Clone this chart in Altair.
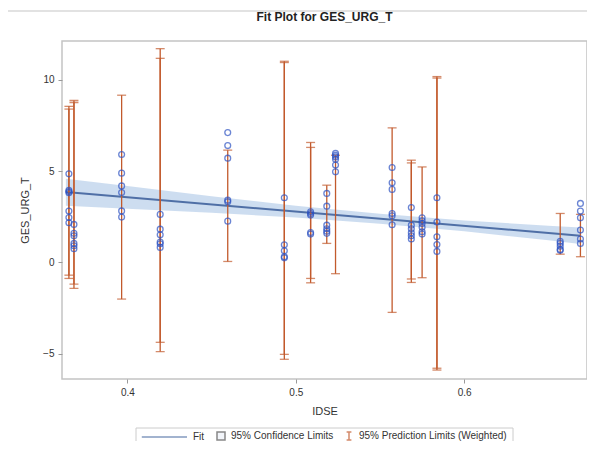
import altair as alt
import pandas as pd

# ---------------- data ----------------
col_x = [0.3653, 0.3683, 0.3966, 0.4195, 0.4596, 0.4932, 0.5088, 0.5184,
         0.5236, 0.5572, 0.5686, 0.5750, 0.5838, 0.6570, 0.6690]
col_y = [
    [4.85, 3.95, 3.88, 3.82, 2.81, 2.46, 2.17],
    [2.08, 1.59, 1.46, 1.04, 0.91, 0.75],
    [5.91, 4.89, 4.19, 3.83, 2.82, 2.48],
    [2.63, 1.82, 1.51, 1.11, 1.02, 0.82],
    [7.11, 6.40, 5.71, 3.41, 3.32, 2.26],
    [3.54, 0.96, 0.64, 0.31, 0.25],
    [2.77, 2.68, 2.59, 1.64, 1.55],
    [3.78, 3.08, 2.04, 1.84, 1.71, 1.59],
    [5.97, 5.87, 5.78, 5.65, 5.33, 4.96],
    [5.20, 4.36, 4.00, 2.68, 2.55, 2.06],
    [3.01, 2.04, 1.84, 1.62, 1.46, 1.28],
    [2.44, 2.28, 2.13, 1.92, 1.68, 1.55],
    [3.54, 2.21, 1.40, 0.98, 0.60],
    [1.15, 1.04, 0.89, 0.71, 0.66],
    [3.23, 2.81, 2.44, 1.77, 1.28, 1.04],
]

# 95% prediction limits (weighted), one entry per drawn bar
pred_x  = [0.3653, 0.3653, 0.3683, 0.3683, 0.3966, 0.4195, 0.4195, 0.4596,
           0.4932, 0.4932, 0.5088, 0.5088, 0.5184, 0.5236, 0.5572,
           0.5686, 0.5686, 0.5750, 0.5838, 0.5838, 0.6570, 0.6690]
pred_lo = [-0.88, -0.70, -1.42, -1.19, -2.01, -4.89, -4.38, 0.05,
           -5.31, -5.04, -1.12, -0.88, 1.04, -0.62, -2.74,
           -1.10, -0.91, -0.84, -5.90, -5.80, 0.45, 0.31]
pred_hi = [8.55, 8.40, 8.87, 8.76, 9.16, 11.71, 11.18, 6.15,
           11.02, 10.95, 6.57, 6.30, 4.23, 5.87, 7.37,
           5.60, 5.45, 5.23, 10.18, 10.10, 2.68, 2.63]

# fit line and 95% confidence band
fit_x  = [0.3635, 0.669]
fit_y  = [3.85, 1.46]
band_x  = [0.3635, 0.40, 0.45, 0.50, 0.55, 0.60, 0.65, 0.669]
band_lo = [3.10, 2.94, 2.72, 2.46, 2.12, 1.70, 1.21, 1.01]
band_hi = [4.58, 4.18, 3.62, 3.10, 2.66, 2.30, 2.01, 1.91]

legend_labels = ["Fit", "95% Confidence Limits", "95% Prediction Limits (Weighted)"]
x_ticks = [0.4, 0.5, 0.6]
y_ticks = [-5, 0, 5, 10]

# ---------------- tables ----------------
obs = pd.DataFrame([(x, y) for x, ys in zip(col_x, col_y) for y in ys],
                   columns=["IDSE", "GES_URG_T"])
pred = pd.DataFrame({"IDSE": pred_x, "lo": pred_lo, "hi": pred_hi})
fit = pd.DataFrame({"IDSE": fit_x, "fit": fit_y})
band = pd.DataFrame({"IDSE": band_x, "lo": band_lo, "hi": band_hi})
leg = pd.DataFrame({"series": legend_labels})

FONT = "Liberation Sans"
BLUE_PT = "#2d52c2"
FIT_C = "#4f6fa6"
BAND_C = "#c8d9ee"
ERR_C = "#c25a2c"

xs = alt.Scale(domain=[0.3612, 0.6729], nice=False, zero=False)
ys = alt.Scale(domain=[-6.39, 12.13], nice=False, zero=False)
xax = alt.Axis(values=x_ticks, format=".1f", title="IDSE")
yax = alt.Axis(values=y_ticks, format="d", title="GES_URG_T")

band_l = alt.Chart(band).mark_area(color=BAND_C, opacity=0.9).encode(
    x=alt.X("IDSE:Q", scale=xs, axis=xax),
    y=alt.Y("lo:Q", scale=ys, axis=yax),
    y2="hi:Q",
)
fit_l = alt.Chart(fit).mark_line(color=FIT_C, strokeWidth=2).encode(
    x=alt.X("IDSE:Q", scale=xs), y=alt.Y("fit:Q", scale=ys)
)
rule_l = alt.Chart(pred).mark_rule(color=ERR_C, strokeWidth=1.3).encode(
    x=alt.X("IDSE:Q", scale=xs), y=alt.Y("lo:Q", scale=ys), y2="hi:Q"
)
cap_lo = alt.Chart(pred).mark_tick(color=ERR_C, orient="horizontal", size=9, thickness=1.3).encode(
    x=alt.X("IDSE:Q", scale=xs), y=alt.Y("lo:Q", scale=ys)
)
cap_hi = alt.Chart(pred).mark_tick(color=ERR_C, orient="horizontal", size=9, thickness=1.3).encode(
    x=alt.X("IDSE:Q", scale=xs), y=alt.Y("hi:Q", scale=ys)
)
pts = alt.Chart(obs).mark_point(shape="circle", filled=False, size=34, strokeWidth=1.3,
                                color=BLUE_PT).encode(
    x=alt.X("IDSE:Q", scale=xs), y=alt.Y("GES_URG_T:Q", scale=ys)
)

# legend carrier (no marks drawn); the Fit line symbol runs to the left of its slot
leg_legend = alt.Legend(title=None)
leg_l = alt.Chart(leg).transform_filter("false").mark_point(filled=False).encode(
    shape=alt.Shape("series:N", scale=alt.Scale(
        domain=legend_labels,
        range=["M-10.3,0H1", "M-1,-1H1V1H-1Z", "M-0.6,-1H0.6M0,-1V1M-0.6,1H0.6"]),
        legend=leg_legend),
    stroke=alt.Stroke("series:N", scale=alt.Scale(domain=legend_labels,
                      range=[FIT_C, "#555555", ERR_C]), legend=leg_legend),
    fill=alt.Fill("series:N", scale=alt.Scale(domain=legend_labels,
                  range=["transparent", "#e6edf6", "transparent"]), legend=leg_legend),
)

# decorative frames: screenshot border lines and the legend box
one = alt.Data(values=[{}])
frame_top = alt.Chart(one).mark_rule(color="#d9d9d9", strokeWidth=1.5).encode(
    x=alt.value(-55), x2=alt.value(530), y=alt.value(-30))
frame_left = alt.Chart(one).mark_rule(color="#d9d9d9", strokeWidth=1.5).encode(
    x=alt.value(-55), y=alt.value(-30), y2=alt.value(400))
legend_box = alt.Chart(one).mark_rect(fill="white", fillOpacity=0, stroke="#cccccc", strokeWidth=1).encode(
    x=alt.value(74), x2=alt.value(451), y=alt.value(387), y2=alt.value(403))

chart = alt.layer(frame_top, frame_left, band_l, fit_l, rule_l, cap_lo, cap_hi, pts,
                  legend_box, leg_l).properties(
    width=525, height=338,
    title=alt.Title("Fit Plot for GES_URG_T", font=FONT, fontSize=12, fontWeight="bold",
                    color="#222", anchor="middle", frame="group", offset=14, dy=28),
    autosize=alt.AutoSizeParams(type="none"),
    padding={"left": 54, "top": 33, "right": 0, "bottom": 62},
).configure_view(
    stroke="#c4c4c4", strokeWidth=1.5
).configure_axis(
    labelFont=FONT, titleFont=FONT, labelFontSize=10, titleFontSize=11,
    titleFontWeight="normal", labelColor="#333", titleColor="#333",
    tickColor="#999", tickSize=4, domain=False, grid=False, labelPadding=4,
).configure_axisY(titlePadding=12).configure_axisX(titlePadding=8).configure_legend(
    orient="none", legendX=113, legendY=387, direction="horizontal",
    labelFont=FONT, labelFontSize=10, labelColor="#333",
    strokeColor="transparent", padding=3, symbolSize=64, symbolStrokeWidth=1.5,
    labelOffset=5, columnPadding=9,
)

chart.save("out.html", embed_options={"renderer": "svg", "actions": False})
